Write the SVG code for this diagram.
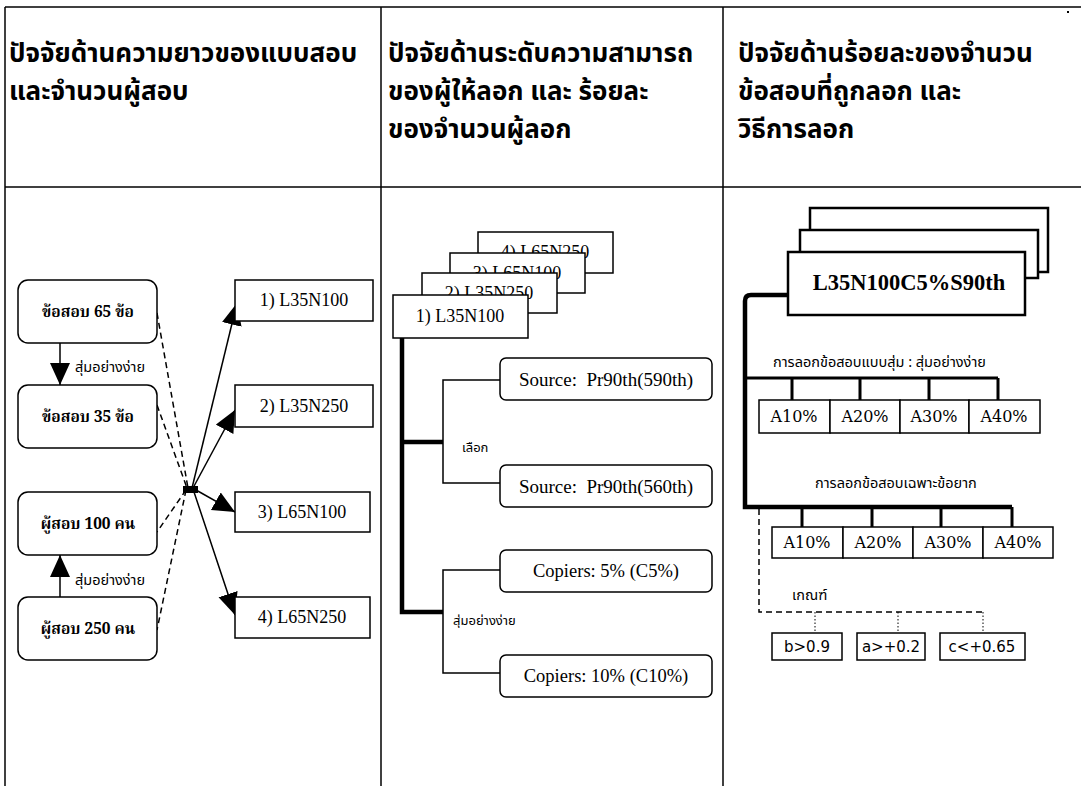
<svg xmlns="http://www.w3.org/2000/svg" width="1081" height="786" viewBox="0 0 1081 786">
<style>
.grid{stroke:#000;stroke-width:1.5;fill:none}
.hdr{font-family:"Noto Sans Thai","Loma","Tahoma","Garuda","Noto Sans",sans-serif;font-weight:bold;font-size:26px;fill:#000}
.nodeT{font-family:"Noto Serif Thai","Noto Sans Thai","Liberation Serif",serif;font-weight:bold;font-size:15.5px;fill:#000;text-anchor:middle}
.lbl{font-family:"Noto Sans Thai","Liberation Sans",sans-serif;font-size:13px;fill:#000}
.lblL{font-family:"Noto Sans Thai","Liberation Sans",sans-serif;font-size:14.5px;fill:#000}
.lblR{font-family:"Noto Sans Thai","Liberation Sans",sans-serif;font-size:14.5px;fill:#000}
.tm{font-family:"Liberation Serif",serif;font-size:18px;fill:#000;text-anchor:middle}
.src{font-family:"Liberation Serif",serif;font-size:19px;fill:#000;text-anchor:middle}
.cop{font-family:"Liberation Serif",serif;font-size:18.5px;fill:#000;text-anchor:middle}
.cell{font-family:"DejaVu Serif","Liberation Serif",serif;font-size:16px;fill:#000;text-anchor:middle}
.crit{font-family:"DejaVu Sans","Liberation Sans",sans-serif;font-size:15px;fill:#000;text-anchor:middle}
.box{fill:#fff;stroke:#000;stroke-width:1.5}
.rbox{fill:#fff;stroke:#000;stroke-width:1.5}
.tbox{fill:#fff;stroke:#000;stroke-width:2.5}
.thin{stroke:#000;stroke-width:1.5;fill:none}
.thick{stroke:#000;stroke-width:4.5;fill:none}
.mid{stroke:#000;stroke-width:3;fill:none}
.dash{stroke:#000;stroke-width:1.5;fill:none;stroke-dasharray:6,4}
.dot{stroke:#000;stroke-width:1;fill:none;stroke-dasharray:1.5,2}
</style>
<defs>
<marker id="ah" markerUnits="userSpaceOnUse" markerWidth="24" markerHeight="22" refX="22" refY="10" orient="auto">
<path d="M0,0 L22,10 L0,20 Z" fill="#000"/>
</marker>
</defs>
<rect width="1081" height="786" fill="#fff"/>
<g id="table">
<line class="grid" x1="5" y1="7" x2="1081" y2="7"/>
<line class="grid" x1="5" y1="7" x2="5" y2="786"/>
<line class="grid" x1="381" y1="7" x2="381" y2="786"/>
<line class="grid" x1="723" y1="7" x2="723" y2="786"/>
<line class="grid" x1="5" y1="187" x2="1081" y2="187"/>
<rect x="1067" y="11" width="2" height="2" fill="#000"/>
</g>
<g id="headers">
<text class="hdr" x="9" y="62">ปัจจัยด้านความยาวของแบบสอบ</text>
<text class="hdr" x="9" y="100">และจำนวนผู้สอบ</text>
<text class="hdr" x="388" y="62">ปัจจัยด้านระดับความสามารถ</text>
<text class="hdr" x="388" y="100">ของผู้ให้ลอก และ ร้อยละ</text>
<text class="hdr" x="388" y="138">ของจำนวนผู้ลอก</text>
<text class="hdr" x="738" y="62">ปัจจัยด้านร้อยละของจำนวน</text>
<text class="hdr" x="738" y="100">ข้อสอบที่ถูกลอก และ</text>
<text class="hdr" x="738" y="138">วิธีการลอก</text>
</g>
<g id="connectors">
<line class="thin" x1="60" y1="343" x2="60" y2="385" marker-end="url(#ah)"/>
<line class="thin" x1="60" y1="597" x2="60" y2="555" marker-end="url(#ah)"/>
<line class="dash" x1="157" y1="313" x2="188" y2="488"/>
<line class="dash" x1="157" y1="405" x2="187" y2="488"/>
<line class="dash" x1="186" y1="490" x2="157" y2="532"/>
<line class="dash" x1="186" y1="490" x2="157" y2="630"/>
<line class="thin" x1="192" y1="488" x2="237" y2="303" marker-end="url(#ah)"/>
<line class="thin" x1="193" y1="488" x2="235" y2="410" marker-end="url(#ah)"/>
<line class="thin" x1="196" y1="490" x2="235" y2="512" marker-end="url(#ah)"/>
<line class="thin" x1="194" y1="492" x2="235" y2="615" marker-end="url(#ah)"/>
<rect x="183" y="486" width="15" height="7" fill="#000"/>
<path class="thick" d="M402 338 V612 H443 M402 442 H443"/>
<path class="thin" d="M500 380 H443 V483 H500 M500 570 H443 V673 H500"/>
<path class="thick" d="M788 295 H751 Q745 295 745 301 V507 H1012"/>
<path class="mid" d="M745 378 H998 M792 378 V400 M860 378 V400 M929 378 V400 M998 378 V400"/>
<path class="mid" d="M802 507 V527 M872 507 V527 M941 507 V527 M1012 507 V527"/>
<path class="dash" d="M759 509 V612 H983"/>
<path class="dot" d="M815 612 V633 M898 612 V633 M983 612 V633"/>
</g>
<g id="node-test65"><rect class="rbox" x="18" y="280" width="139" height="63" rx="10"/><text class="nodeT" x="88" y="317">ข้อสอบ 65 ข้อ</text></g>
<g id="node-test35"><rect class="rbox" x="18" y="385" width="139" height="63" rx="10"/><text class="nodeT" x="88" y="422">ข้อสอบ 35 ข้อ</text></g>
<g id="node-exam100"><rect class="rbox" x="18" y="492" width="139" height="63" rx="10"/><text class="nodeT" x="88" y="529">ผู้สอบ 100 คน</text></g>
<g id="node-exam250"><rect class="rbox" x="18" y="597" width="139" height="63" rx="10"/><text class="nodeT" x="88" y="634">ผู้สอบ 250 คน</text></g>
<g id="lbl-left"><text class="lblL" x="75" y="372">สุ่มอย่างง่าย</text><text class="lblL" x="75" y="585">สุ่มอย่างง่าย</text></g>
<g id="node-L1"><rect class="box" x="235" y="280" width="138" height="41"/><text class="tm" x="304" y="306">1) L35N100</text></g>
<g id="node-L2"><rect class="box" x="235" y="385" width="138" height="42"/><text class="tm" x="304" y="412">2) L35N250</text></g>
<g id="node-L3"><rect class="box" x="235" y="492" width="135" height="40"/><text class="tm" x="302" y="518">3) L65N100</text></g>
<g id="node-L4"><rect class="box" x="235" y="597" width="135" height="41"/><text class="tm" x="302" y="623">4) L65N250</text></g>
<g id="node-M4"><rect class="box" x="478" y="232" width="135" height="41"/><text class="tm" x="545" y="258">4) L65N250</text></g>
<g id="node-M3"><rect class="box" x="450" y="253" width="135" height="40"/><text class="tm" x="517" y="279">3) L65N100</text></g>
<g id="node-M2"><rect class="box" x="422" y="273" width="135" height="40"/><text class="tm" x="489" y="299">2) L35N250</text></g>
<g id="node-M1"><rect class="box" x="393" y="295" width="135" height="43"/><text class="tm" x="460" y="322">1) L35N100</text></g>
<g id="node-src590"><rect class="rbox" x="500" y="358" width="212" height="42" rx="6"/><text class="src" x="606" y="386" xml:space="preserve">Source:  Pr90th(590th)</text></g>
<g id="node-src560"><rect class="rbox" x="500" y="465" width="212" height="42" rx="6"/><text class="src" x="606" y="493" xml:space="preserve">Source:  Pr90th(560th)</text></g>
<g id="node-c5"><rect class="rbox" x="500" y="550" width="212" height="42" rx="6"/><text class="cop" x="606" y="577">Copiers: 5% (C5%)</text></g>
<g id="node-c10"><rect class="rbox" x="500" y="655" width="212" height="42" rx="6"/><text class="cop" x="606" y="682">Copiers: 10% (C10%)</text></g>
<g id="lbl-mid"><text class="lbl" x="462" y="452">เลือก</text><text class="lbl" x="453" y="625">สุ่มอย่างง่าย</text></g>
<g id="node-R3"><rect class="tbox" x="810" y="208" width="238" height="64"/></g>
<g id="node-R2"><rect class="tbox" x="800" y="230" width="238" height="48"/></g>
<g id="node-R1"><rect class="tbox" x="788" y="252" width="237" height="63"/><text x="909" y="290" style="font-family:'Liberation Serif',serif;font-weight:bold;font-size:22.5px;text-anchor:middle">L35N100C5%S90th</text></g>
<g id="lbl-right"><text class="lblR" x="773" y="367">การลอกข้อสอบแบบสุ่ม : สุ่มอย่างง่าย</text><text class="lblR" x="815" y="488">การลอกข้อสอบเฉพาะข้อยาก</text><text class="lblR" x="792" y="600">เกณฑ์</text></g>
<g id="node-rowA1">
<rect class="box" x="759" y="400" width="71" height="33"/><text class="cell" x="794" y="422">A10%</text>
<rect class="box" x="830" y="400" width="70" height="33"/><text class="cell" x="865" y="422">A20%</text>
<rect class="box" x="900" y="400" width="69" height="33"/><text class="cell" x="934" y="422">A30%</text>
<rect class="box" x="969" y="400" width="71" height="33"/><text class="cell" x="1004" y="422">A40%</text>
</g>
<g id="node-rowA2">
<rect class="box" x="772" y="527" width="71" height="31"/><text class="cell" x="807" y="548">A10%</text>
<rect class="box" x="843" y="527" width="70" height="31"/><text class="cell" x="878" y="548">A20%</text>
<rect class="box" x="913" y="527" width="70" height="31"/><text class="cell" x="948" y="548">A30%</text>
<rect class="box" x="983" y="527" width="70" height="31"/><text class="cell" x="1018" y="548">A40%</text>
</g>
<g id="node-b"><rect class="box" x="772" y="633" width="70" height="27"/><text class="crit" x="807" y="652">b&gt;0.9</text></g>
<g id="node-a"><rect class="box" x="857" y="633" width="68" height="27"/><text class="crit" x="891" y="652">a&gt;+0.2</text></g>
<g id="node-c"><rect class="box" x="940" y="633" width="85" height="27"/><text class="crit" x="982" y="652">c&lt;+0.65</text></g>
</svg>
